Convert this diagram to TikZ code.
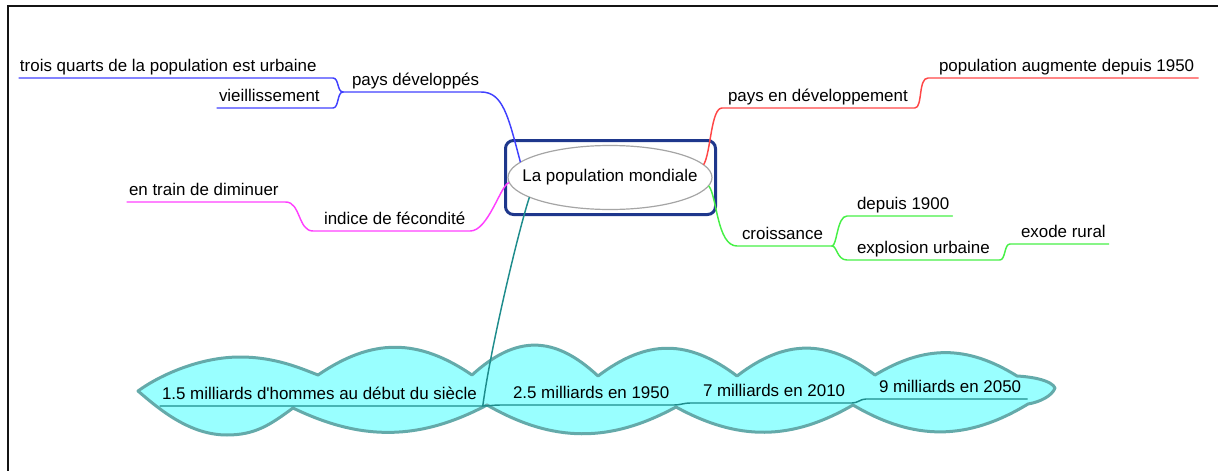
\documentclass[tikz,border=0pt]{standalone}
\usepackage{fontspec}
\setmainfont{Liberation Sans}
\usetikzlibrary{calc,shapes.geometric}
\definecolor{cblue}{RGB}{64,64,255}
\definecolor{cred}{RGB}{255,70,70}
\definecolor{cmag}{RGB}{255,64,255}
\definecolor{cgreen}{RGB}{70,240,70}
\definecolor{cteal}{RGB}{30,140,140}
\definecolor{cnavy}{RGB}{30,55,140}
\definecolor{cloudfill}{RGB}{153,255,255}
\definecolor{cloudline}{RGB}{100,170,170}
\definecolor{egray}{RGB}{165,165,165}
\definecolor{framec}{RGB}{20,20,20}
\begin{document}
\begin{tikzpicture}[x=0.75pt,y=-0.75pt,
  txt/.style={font=\fontsize{12.7}{15}\selectfont},
  lbl/.style={txt,anchor=base west,inner sep=0pt,outer sep=0pt,text depth=5.25pt},
  con/.style={line width=1.1pt,line cap=round,line join=round},
  blu/.style={con,draw=cblue},
  rd/.style={con,draw=cred},
  mag/.style={con,draw=cmag},
  grn/.style={con,draw=cgreen},
  tea/.style={con,draw=cteal},
  cloudshape/.style={fill=cloudfill,draw=cloudline,line width=2.25pt,line join=round},
  framestyle/.style={draw=framec,line width=1.9pt},
  centerbox/.style={draw=cnavy,line width=2.25pt,rounded corners=6pt,minimum width=157.5pt,minimum height=55.5pt,inner sep=0pt},
  centerell/.style={ellipse,draw=egray,line width=0.9pt,fill=white,minimum width=153pt,minimum height=48pt,inner sep=0pt}]
\useasboundingbox (0,0) rectangle (1218,471);
% frame
\draw[framestyle] (8,471) -- (8,6) -- (1218,6);
% cloud background of the timeline
\draw[cloudshape] (138,391) .. controls (160,375) and (200,357) .. (240,357)
 .. controls (275,357) and (300,368) .. (318,375)
 .. controls (372,338) and (418,338) .. (472,375)
 .. controls (516,335) and (554,335) .. (598,376)
 .. controls (647,339) and (688,339) .. (737,376)
 .. controls (785,339) and (827,339) .. (875,375)
 .. controls (925,345) and (967,345) .. (1017,376)
 .. controls (1035,377) and (1052,381) .. (1055,388)
 .. controls (1052,396) and (1040,402) .. (1028,404)
 .. controls (967,441) and (914,441) .. (853,405)
 .. controls (791,441) and (738,441) .. (676,407)
 .. controls (610,443) and (553,443) .. (487,405)
 .. controls (419,441) and (361,441) .. (293,408)
 .. controls (270,425) and (255,435) .. (227,435)
 .. controls (190,435) and (160,410) .. (138,391) -- cycle;
% central topic
\node[centerbox] (cb) at (610.5,177.5) {};
\node[centerell] (c) at (610,177.5) {};
\node[txt,inner sep=0pt] (ct) at (c.center) {La population mondiale};
% labels
\node[lbl] (tq) at (20,71) {trois quarts de la population est urbaine};
\node[lbl] (vi) at (219,101) {vieillissement};
\node[lbl] (pd) at (352,85) {pays développés};
\node[lbl] (pe) at (728,101) {pays en développement};
\node[lbl] (pa) at (939,71) {population augmente depuis 1950};
\node[lbl] (tr) at (129,195) {en train de diminuer};
\node[lbl] (fe) at (324,224) {indice de fécondité};
\node[lbl] (cr) at (742,239) {croissance};
\node[lbl] (d19) at (857,209) {depuis 1900};
\node[lbl] (eu) at (857,253) {explosion urbaine};
\node[lbl] (er) at (1021,237) {exode rural};
\node[lbl] (t1) at (162,399) {1.5 milliards d\textquotesingle hommes au début du siècle};
\node[lbl] (t2) at (513,398) {2.5 milliards en 1950};
\node[lbl] (t3) at (703,396) {7 milliards en 2010};
\node[lbl] (t4) at (879,392) {9 milliards en 2050};
% fork points
\coordinate (fb) at ($(pd.south west)+(-9,0)$);
\coordinate (fg) at ($(cr.south west)+(90,0)$);
% blue branch
\draw[blu] (c.170) .. controls +(-12,-45) and +(22,0) .. ($(pd.south east)+(2,0)$) -- (fb);
\draw[blu] (fb) .. controls +(-6,0) and +(6,0) .. ($(fb)+(-10,-14)$) -- ($(tq.south west)+(-1,0)$);
\draw[blu] (fb) .. controls +(-6,0) and +(6,0) .. ($(fb)+(-10,16)$) -- ($(vi.south west)+(-2,0)$);
% red branch
\draw[rd] (c.8) .. controls +(7,-12) and +(-11,0) .. ($(pe.south west)+(-6,0)$) -- ($(pe.south east)+(7,0)$)
  .. controls +(8,0) and +(-10,0) .. ($(pa.south west)+(-11,0)$) -- ($(pa.south east)+(4,0)$);
% magenta branch
\draw[mag] (c.183) .. controls +(-8,2) and +(18,0) .. ($(fe.south east)+(5,0)$) -- ($(fe.south west)+(-11,0)$)
  .. controls +(-15,0) and +(15,0) .. ($(tr.south east)+(7,0)$) -- ($(tr.south west)+(-2,0)$);
% green branch
\draw[grn] (c.-5) .. controls +(8,10) and +(-20,0) .. ($(cr.south west)+(-5,0)$) -- (fg);
\draw[grn] (fg) .. controls +(5,0) and +(-10,0) .. ($(d19.south west)+(-10,0)$) -- ($(d19.south east)+(3,0)$);
\draw[grn] (fg) .. controls +(5,0) and +(-10,0) .. ($(eu.south west)+(-10,0)$) -- ($(eu.south east)+(10,0)$)
  .. controls +(6,0) and +(-6,0) .. ($(er.south west)+(-11,0)$) -- ($(er.south east)+(3,0)$);
% teal branch (timeline)
\draw[tea] (c.194) .. controls +(-10,30) and +(8,-60) .. ($(t1.south east)+(6,0)$) -- ($(t1.south west)+(-2,0)$);
\draw[tea] ($(t1.south east)+(6,0)$) .. controls +(6,0) and +(-6,0) .. ($(t2.south west)+(-13,0)$) -- ($(t2.south east)+(5,0)$)
  .. controls +(6,0) and +(-6,0) .. ($(t3.south west)+(-13,0)$) -- ($(t3.south east)+(7,0)$)
  .. controls +(6,0) and +(-6,0) .. ($(t4.south west)+(-13,0)$) -- ($(t4.south east)+(6,0)$);
\end{tikzpicture}
\end{document}
